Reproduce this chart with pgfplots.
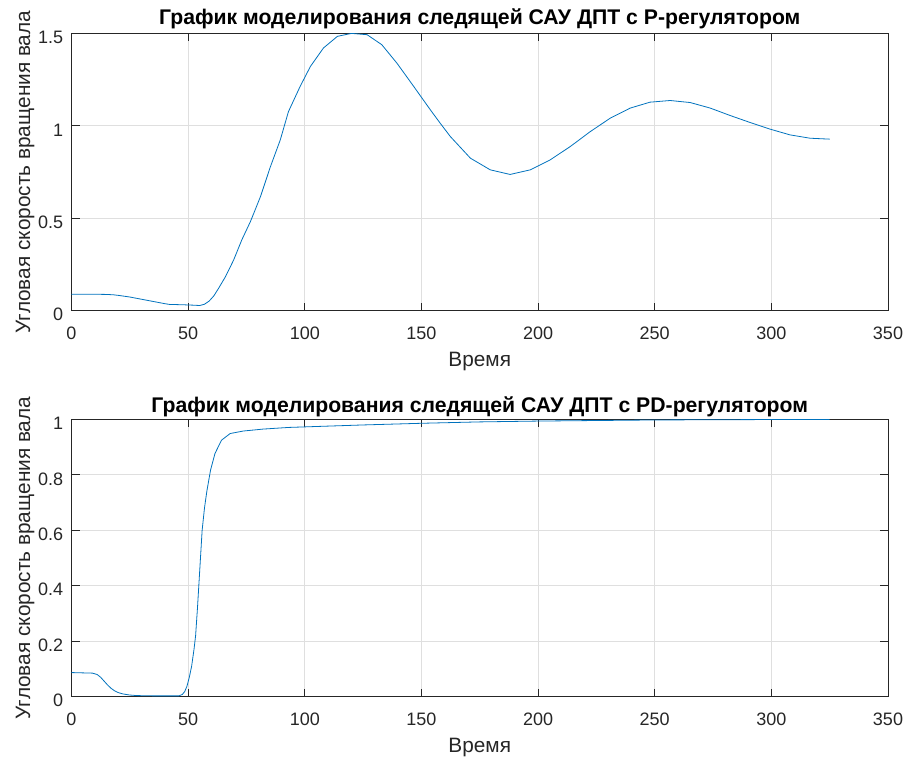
\documentclass[border=0pt]{standalone}
\usepackage{fontspec}
\setmainfont{Liberation Sans}
\usepackage{pgfplots}
\pgfplotsset{compat=1.18}

\definecolor{mlblue}{RGB}{0,114,189}
\definecolor{axgray}{RGB}{38,38,38}
\definecolor{gridgray}{RGB}{223,223,223}

% shared look of both subplots
\pgfplotsset{
  mlaxis/.style={
    scale only axis, width=408.25pt, height=138.65pt,
    xmin=0, xmax=350, xtick={0,50,100,150,200,250,300,350},
    axis line style={axgray, line width=0.5pt},
    tick style={axgray, line width=0.5pt},
    major tick length=4pt,
    tick align=inside,
    xtick pos=both, ytick pos=both,
    grid=major, major grid style={gridgray, line width=0.5pt},
    ticklabel style={font=\fontsize{9}{10}\selectfont, text=axgray},
    /pgf/number format/assume math mode=true,
    xticklabel style={anchor=base, yshift=-14.3pt},
    yticklabel style={anchor=east, inner sep=0pt, xshift=-4pt, yshift=-2pt},
    xlabel={Время}, ylabel={Угловая скорость вращения вала},
    xlabel style={font=\fontsize{10.4}{12}\selectfont, text=axgray,
      at={(axis description cs:0.5,0)}, anchor=base, yshift=-28pt},
    ylabel style={font=\fontsize{10.4}{12}\selectfont, text=axgray,
      at={(axis description cs:-0.0508,0.5)}, anchor=base},
    title style={font=\bfseries\fontsize{10.6}{12}\selectfont, text=black,
      at={(axis description cs:0.5,1)}, anchor=base},
    cycle list={{mlblue, line width=0.6pt, mark=none}},
  }
}

\pgfplotstableread{
x y
0 0.089
10 0.089
15 0.088
18 0.086
20 0.083
25 0.074
30 0.062
35 0.050
40 0.038
42 0.034
48 0.032
52 0.030
55 0.028
57 0.035
59 0.052
61 0.080
63 0.120
66 0.184
69.5 0.274
73 0.383
76.7 0.482
81 0.617
85.3 0.780
89.5 0.924
93 1.077
98 1.213
102.4 1.321
108 1.421
114 1.484
120 1.500
126.7 1.493
133 1.439
139.5 1.339
146.7 1.213
153.8 1.087
158 1.015
162.4 0.942
171 0.825
179.5 0.762
188 0.737
196.7 0.762
205.2 0.816
213.8 0.888
222.4 0.969
231 1.042
239.5 1.096
248 1.128
256.6 1.137
265.2 1.126
273.8 1.096
282.3 1.056
290.9 1.018
299.5 0.982
308 0.951
316.6 0.933
325 0.928
}\pregulator

\pgfplotstableread{
x y
0 0.087
9 0.085
11 0.080
12.5 0.070
14 0.056
15.5 0.042
17 0.030
18.5 0.021
20 0.015
22 0.010
25 0.006
28 0.004
35 0.003
46 0.003
47.5 0.008
48.5 0.018
49.5 0.038
50.5 0.070
51.5 0.110
52.5 0.170
53.2 0.220
54 0.320
55 0.460
56 0.600
57 0.680
58 0.740
59.6 0.817
61.5 0.877
64.3 0.925
68 0.949
73.6 0.958
82 0.965
93 0.971
100 0.973
125 0.980
150 0.986
175 0.991
200 0.994
250 0.998
300 0.9995
325 1.000
}\pdregulator

\begin{document}
\begin{tikzpicture}
\useasboundingbox (-35.75pt,-224.65pt) rectangle (417.75pt,155.35pt);

% the default title style already lifts the title by 6pt
\begin{axis}[mlaxis,
  ymin=0, ymax=1.5, ytick={0,0.5,1,1.5},
  title={График моделирования следящей САУ ДПТ с P-регулятором},
  title style={yshift=-1.8pt}]
  \addplot table[x=x, y=y] {\pregulator};
\end{axis}

\begin{axis}[mlaxis, at={(0pt,-193pt)}, anchor=south west,
  ymin=0, ymax=1, ytick={0,0.2,0.4,0.6,0.8,1},
  title={График моделирования следящей САУ ДПТ с PD-регулятором},
  title style={yshift=-2.75pt}]
  \addplot table[x=x, y=y] {\pdregulator};
\end{axis}
\end{tikzpicture}
\end{document}
